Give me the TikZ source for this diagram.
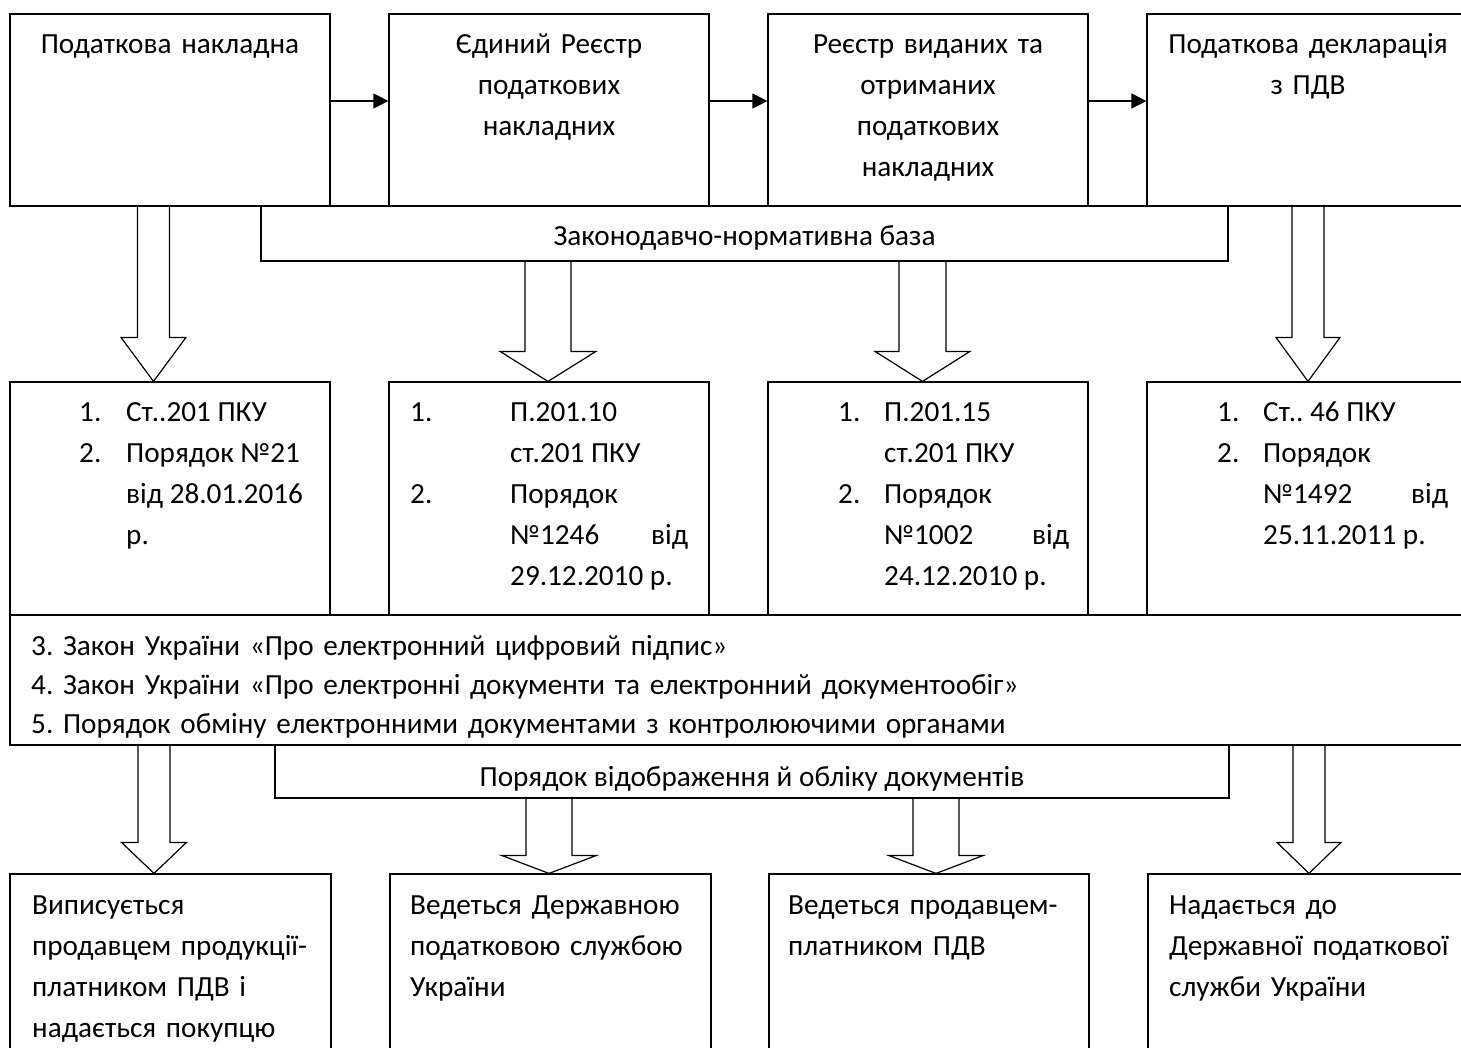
\documentclass[tikz,border=0pt]{standalone}
\usepackage{fontspec}
\setmainfont{Carlito}
\frenchspacing
\usetikzlibrary{arrows.meta}

% hollow block arrow: source, target, axis x, shaft half width, head half width, head length
\newcommand\fatarrow[6]{%
  \pgfmathsetmacro\axl{#3-#4}\pgfmathsetmacro\axr{#3+#4}%
  \pgfmathsetmacro\hdl{#3-#5}\pgfmathsetmacro\hdr{#3+#5}%
  \draw[fatline] (\axl,0 |- #1.south) -- ([yshift=#6pt]\axl,0 |- #2.north)
    -- ([yshift=#6pt]\hdl,0 |- #2.north) -- (#3,0 |- #2.north)
    -- ([yshift=#6pt]\hdr,0 |- #2.north) -- ([yshift=#6pt]\axr,0 |- #2.north)
    -- (\axr,0 |- #1.south);
}

\begin{document}
\begin{tikzpicture}[x=1pt,y=-1pt,
  box/.style={draw,line width=\lw,inner sep=0pt},
  txt/.style={inner sep=0pt,font=\fontsize{29.2}{41}\selectfont},
  flow/.style={line width=\lw,-{Triangle[length=15pt,width=15pt]}},
  fatline/.style={line width=\lw,line join=miter}]
\def\lw{1.2pt}
\path[use as bounding box,fill=white] (0,0) rectangle (1461,1047);
\clip (0,0) rectangle (1461,1047);

% top row
\node[box,minimum width=320pt,minimum height=192pt] (t1) at (170,110) {};
\node[box,minimum width=320pt,minimum height=192pt] (t2) at (549,110) {};
\node[box,minimum width=320pt,minimum height=192pt] (t3) at (928,110) {};
\node[box,minimum width=320pt,minimum height=192pt] (t4) at (1307,110) {};
\node[txt,anchor=base,text width=310pt,align=center] (t1txt) at (170,53) {Податкова накладна};
\node[txt,anchor=base,text width=310pt,align=center] (t2txt) at (549,53) {Єдиний Реєстр\\податкових\\накладних};
\node[txt,anchor=base,text width=310pt,align=center] (t3txt) at (928,53) {Реєстр виданих та\\отриманих\\податкових\\накладних};
\node[txt,anchor=base,text width=310pt,align=center] (t4txt) at (1308,53) {Податкова декларація\\з ПДВ};

\draw[flow] ([yshift=9pt]t1.east) -- ([yshift=9pt]t2.west);
\draw[flow] ([yshift=9pt]t2.east) -- ([yshift=9pt]t3.west);
\draw[flow] ([yshift=9pt]t3.east) -- ([yshift=9pt]t4.west);

% legal base
\node[box,minimum width=967pt,minimum height=55pt] (nb) at (744.5,233.5) {};
\node[txt,anchor=base] (nbtxt) at (744.5,245) {Законодавчо-нормативна база};

% middle row
\node[box,minimum width=320pt,minimum height=233pt] (m1) at (170,498.5) {};
\node[box,minimum width=320pt,minimum height=233pt] (m2) at (549,498.5) {};
\node[box,minimum width=320pt,minimum height=233pt] (m3) at (928,498.5) {};
\node[box,minimum width=320pt,minimum height=233pt] (m4) at (1307,498.5) {};
\node[txt,anchor=base west] (m1txt) at (79,421) {\begin{tabular}[t]{@{}p{47pt}@{}l@{}}
  1. & Ст..201 ПКУ\\ 2. & Порядок №21\\ & від 28.01.2016\\ & р.\end{tabular}};
\node[txt,anchor=base west] (m2txt) at (410,421) {\begin{tabular}[t]{@{}p{100pt}@{}l@{}}
  1. & П.201.10\\ & ст.201 ПКУ\\ 2. & Порядок\\ & \hbox to 178pt{№1246\hfill від}\\ & 29.12.2010 р.\end{tabular}};
\node[txt,anchor=base west] (m3txt) at (838,421) {\begin{tabular}[t]{@{}p{46pt}@{}l@{}}
  1. & П.201.15\\ & ст.201 ПКУ\\ 2. & Порядок\\ & \hbox to 185pt{№1002\hfill від}\\ & 24.12.2010 р.\end{tabular}};
\node[txt,anchor=base west] (m4txt) at (1217,421) {\begin{tabular}[t]{@{}p{46pt}@{}l@{}}
  1. & Ст.. 46 ПКУ\\ 2. & Порядок\\ & \hbox to 185pt{№1492\hfill від}\\ & 25.11.2011 р.\end{tabular}};

\fatarrow{t1}{m1}{153.5}{16}{32.5}{44}
\fatarrow{nb}{m2}{548}{23}{48}{30}
\fatarrow{nb}{m3}{922.5}{23.5}{47.5}{30}
\fatarrow{t4}{m4}{1308}{16}{32}{44}

% laws
\node[box,minimum width=1470pt,minimum height=130pt] (law) at (745,680) {};
\node[txt,anchor=base west,text width=1400pt,align=left,font=\fontsize{29.2}{39}\selectfont] (lawtxt) at (31,655)
  {3. Закон України «Про електронний цифровий підпис»\\
   4. Закон України «Про електронні документи та електронний документообіг»\\
   5. Порядок обміну електронними документами з контролюючими органами};

% order of accounting
\node[box,minimum width=954pt,minimum height=53pt] (ord) at (752,771.5) {};
\node[txt,anchor=base] (ordtxt) at (752,786) {Порядок відображення й обліку документів};

% bottom row
\node[box,minimum width=321pt,minimum height=206pt] (d1) at (170.5,977) {};
\node[box,minimum width=321pt,minimum height=206pt] (d2) at (550.5,977) {};
\node[box,minimum width=320pt,minimum height=206pt] (d3) at (929,977) {};
\node[box,minimum width=320pt,minimum height=206pt] (d4) at (1308,977) {};
\node[txt,anchor=base west,text width=300pt,align=left] (d1txt) at (32,914) {Виписується\\продавцем продукції-\\платником ПДВ і\\надається покупцю};
\node[txt,anchor=base west,text width=300pt,align=left] (d2txt) at (410,914) {Ведеться Державною\\податковою службою\\України};
\node[txt,anchor=base west,text width=300pt,align=left] (d3txt) at (788,914) {Ведеться продавцем-\\платником ПДВ};
\node[txt,anchor=base west,text width=300pt,align=left] (d4txt) at (1169,914) {Надається до\\Державної податкової\\служби України};

\fatarrow{law}{d1}{154}{16}{32.5}{31}
\fatarrow{ord}{d2}{549}{23}{47.5}{18}
\fatarrow{ord}{d3}{936}{23}{47.5}{18}
\fatarrow{law}{d4}{1309}{16}{32}{31}
\end{tikzpicture}
\end{document}
